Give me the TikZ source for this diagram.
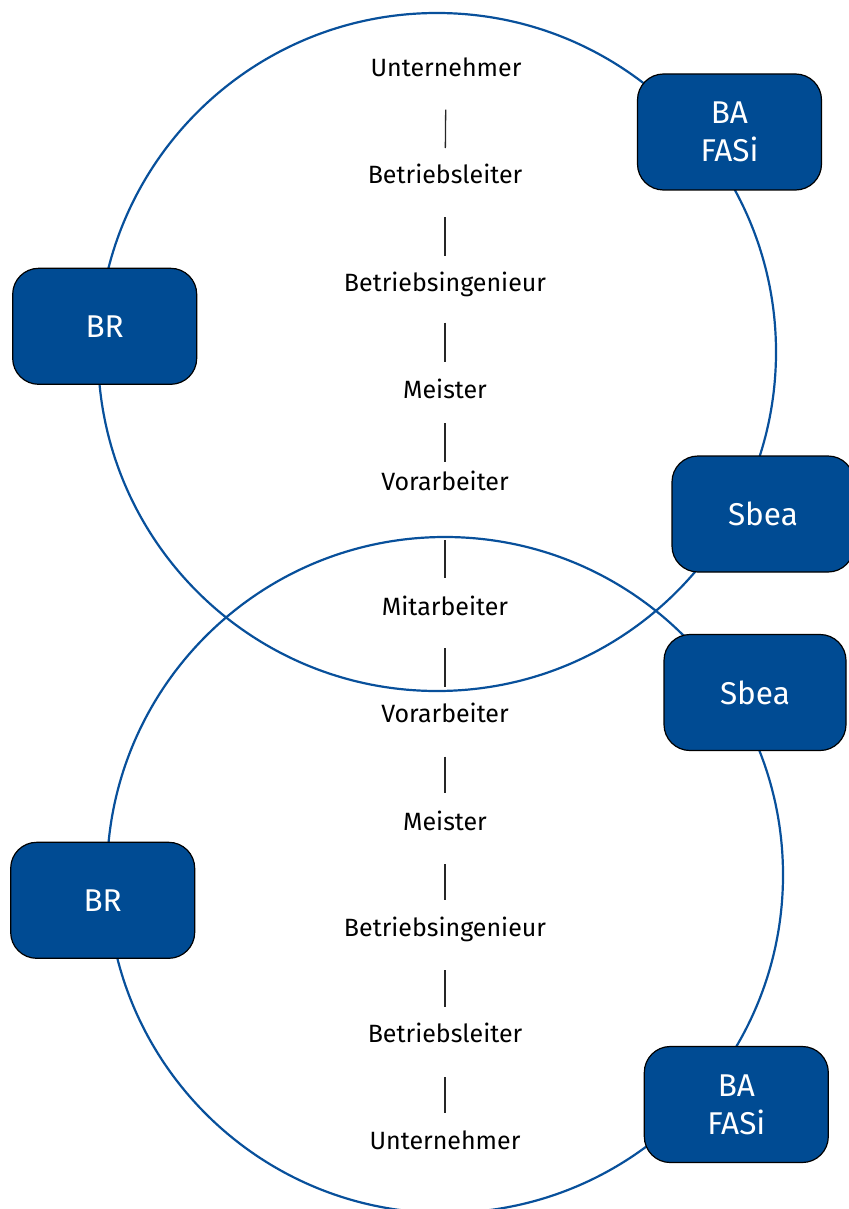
\documentclass[tikz,border=0pt]{standalone}
\usepackage{fontspec}
\setmainfont{Fira Sans}
\definecolor{boxblue}{RGB}{0,75,147}
\definecolor{ringblue}{RGB}{8,80,155}
\begin{document}
\begin{tikzpicture}[x=1pt,y=-1pt,
  ring/.style={circle, draw=ringblue, line width=2.2pt, inner sep=0pt, outer sep=0pt},
  rolebox/.style={draw=black, line width=1.2pt, fill=boxblue, rounded corners=26pt,
    minimum width=184pt, minimum height=116pt, text=white,
    font=\fontsize{31.5}{37.7}\selectfont, align=center, inner sep=0pt},
  rank/.style={anchor=base, inner sep=0pt, font=\fontsize{25}{30}\selectfont, text=black},
  vline/.style={draw=black!85, line width=1.3pt, shorten <=33pt, shorten >=36pt}]
\useasboundingbox (0,0) rectangle (848,1209);

% rings
\node[ring, minimum size=678pt] (ringtop) at (437,352) {};
\node[ring, minimum size=676pt] (ringbot) at (445,875) {};

% hierarchy labels
\node[rank] (u1) at (446,76.7) {Unternehmer};
\node[rank] (l1) at (445,184) {Betriebsleiter};
\node[rank] (i1) at (445,291.7) {Betriebsingenieur};
\node[rank] (m1) at (445,398.3) {Meister};
\node[rank] (v1) at (445,490) {Vorarbeiter};
\node[rank] (ma) at (445,615) {Mitarbeiter};
\node[rank] (v2) at (445,722.7) {Vorarbeiter};
\node[rank] (m2) at (445,830) {Meister};
\node[rank] (i2) at (445,936) {Betriebsingenieur};
\node[rank] (l2) at (445,1042) {Betriebsleiter};
\node[rank] (u2) at (445,1149) {Unternehmer};

% connectors
\draw[vline] (u1.base) -- (l1.base);
\draw[vline] (l1.base) -- (i1.base);
\draw[vline, shorten <=31pt] (i1.base) -- (m1.base);
\draw[vline, shorten <=25pt, shorten >=28pt] (m1.base) -- (v1.base);
\draw[vline, shorten <=50pt, shorten >=37pt] (v1.base) -- (ma.base);
\draw[vline] (ma.base) -- (v2.base);
\draw[vline, shorten <=34pt, shorten >=37pt] (v2.base) -- (m2.base);
\draw[vline, shorten <=34pt] (m2.base) -- (i2.base);
\draw[vline, shorten <=34pt, shorten >=35pt] (i2.base) -- (l2.base);
\draw[vline, shorten <=35pt, shorten >=36pt] (l2.base) -- (u2.base);

% role boxes
\node[rolebox] (bafasi1) at (729.5,132) {BA\\FASi};
\node[rolebox] (br1) at (104.7,326.3) {BR};
\node[rolebox, minimum width=182pt] (sbea1) at (763,514) {Sbea};
\node[rolebox, minimum width=182pt] (sbea2) at (755,692.5) {Sbea};
\node[rolebox] (br2) at (102.7,900.3) {BR};
\node[rolebox] (bafasi2) at (736.3,1104.5) {BA\\FASi};
\end{tikzpicture}
\end{document}
